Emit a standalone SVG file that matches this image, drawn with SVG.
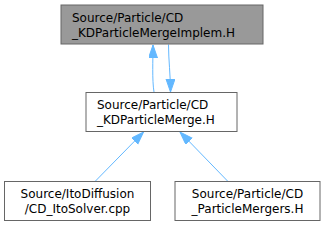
<svg xmlns="http://www.w3.org/2000/svg" width="325" height="227" viewBox="0 0 325 227">
<style>
.box{fill:#ffffff;stroke:#666666;stroke-width:1}
.cur{fill:#999999;stroke:#666666;stroke-width:1}
.lbl{font-family:"DejaVu Sans",sans-serif;font-size:12px;fill:#000000}
.mid{text-anchor:middle}
.edge{fill:none;stroke:#63b8ff;stroke-width:1}
</style>
<defs>
<marker id="ah" markerUnits="userSpaceOnUse" markerWidth="14" markerHeight="10" refX="13" refY="4.5" orient="auto">
<path d="M0,0 L13,4.5 L0,9 z" fill="#63b8ff" stroke="#63b8ff" stroke-width="1"/>
</marker>
</defs>
<g id="edges">
<path class="edge" d="M154,92 C152,80 153,60 153,45" marker-end="url(#ah)"/>
<path class="edge" d="M168.5,44.5 C168.5,60 170.5,75 170.5,92" marker-end="url(#ah)"/>
<path class="edge" d="M95,181.5 L143.5,132" marker-end="url(#ah)"/>
<path class="edge" d="M228,181.5 L180,132" marker-end="url(#ah)"/>
</g>
<g id="node1">
<rect class="cur" x="61" y="5" width="202" height="39"/>
<text class="lbl" x="72" y="21.5">Source/Particle/CD</text>
<text class="lbl" x="72" y="36.5">_KDParticleMergeImplem.H</text>
</g>
<g id="node2">
<rect class="box" x="86" y="92.5" width="151" height="39"/>
<text class="lbl" x="97" y="108.5">Source/Particle/CD</text>
<text class="lbl" x="97" y="123.5">_KDParticleMerge.H</text>
</g>
<g id="node3">
<rect class="box" x="4.5" y="181.5" width="146" height="39"/>
<text class="lbl mid" x="77.5" y="197.5">Source/ItoDiffusion</text>
<text class="lbl mid" x="77.5" y="212.5">/CD_ItoSolver.cpp</text>
</g>
<g id="node4">
<rect class="box" x="175" y="181.5" width="145" height="39"/>
<text class="lbl mid" x="247.5" y="197.5">Source/Particle/CD</text>
<text class="lbl mid" x="247.5" y="212.5">_ParticleMergers.H</text>
</g>
</svg>
